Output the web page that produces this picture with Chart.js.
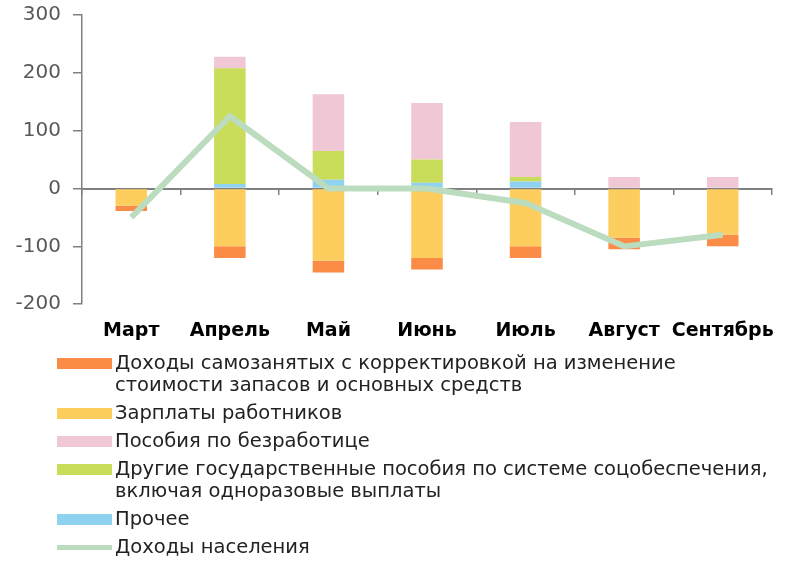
<!DOCTYPE html>
<html>
<head>
<meta charset="utf-8">
<script src="https://cdn.jsdelivr.net/npm/chart.js@4/dist/chart.umd.min.js"></script>
<style>
  html, body { margin: 0; padding: 0; background: #fff; }
  #wrap { position: relative; width: 799px; height: 562px; }
  #c { display: block; }
  #legend {
    position: absolute; left: 57px; top: 352px;
    font-family: 'DejaVu Sans', sans-serif; font-size: 19.5px; line-height: 22px; color: #222;
  }
  .item { display: flex; align-items: flex-start; margin-bottom: 6px; }
  .sw { width: 55px; height: 11px; margin-top: 5.5px; margin-right: 3px; flex: none; }
  .sw.line { height: 5px; margin-top: 8.5px; }
  .txt { white-space: pre-line; }
</style>
</head>
<body>
<div id="wrap">
  <canvas id="c" width="799" height="562"></canvas>
  <div id="legend"></div>
</div>
<script>
// Months of 2020
const months = ['Март', 'Апрель', 'Май', 'Июнь', 'Июль', 'Август', 'Сентябрь'];

// Contributions to personal income change, bn USD
const otherIncome   = [0, 8, 15, 10, 12, 0, 0];
const govBenefits   = [0, 200, 50, 40, 8, 0, 0];
const unemployment  = [0, 20, 98, 98, 95, 20, 20];
const wages         = [-30, -100, -125, -120, -100, -85, -80];
const selfEmployed  = [-9, -20, -20, -20, -20, -20, -20];
const personalIncome = [-50, 125, 0, 0, -25, -100, -80];

const yTicks = { min: -200, max: 300, step: 100 };

const COLORS = {
  self: '#fb8c47',
  wages: '#fdcd5d',
  unemp: '#efc7d5',
  gov: '#c9dd5b',
  other: '#8ed2f0',
  income: '#bcdcbf'
};

const axisGrey = '#808080';

// Keep axis label overhang from pushing the plot area inward
function noPadding(scale) {
  scale.paddingTop = 0;
  scale.paddingBottom = 0;
}

const chart = new Chart(document.getElementById('c'), {
  data: {
    labels: months,
    datasets: [
      { type: 'line', label: 'Доходы населения', data: personalIncome,
        borderColor: COLORS.income, backgroundColor: COLORS.income, borderWidth: 6,
        pointRadius: 0, tension: 0, borderJoinStyle: 'round', borderCapStyle: 'butt', order: 0 },
      { type: 'bar', label: 'Прочее', data: otherIncome, backgroundColor: COLORS.other, order: 1 },
      { type: 'bar', label: 'Другие государственные пособия по системе соцобеспечения,\nвключая одноразовые выплаты',
        data: govBenefits, backgroundColor: COLORS.gov, order: 1 },
      { type: 'bar', label: 'Пособия по безработице', data: unemployment, backgroundColor: COLORS.unemp, order: 1 },
      { type: 'bar', label: 'Зарплаты работников', data: wages, backgroundColor: COLORS.wages, order: 1 },
      { type: 'bar', label: 'Доходы самозанятых с корректировкой на изменение\nстоимости запасов и основных средств',
        data: selfEmployed, backgroundColor: COLORS.self, order: 1 }
    ]
  },
  options: {
    responsive: false,
    animation: false,
    layout: { padding: { top: 15, right: 27, bottom: 213, left: 0 } },
    datasets: { bar: { barPercentage: 0.32, categoryPercentage: 1.0 } },
    plugins: { legend: { display: false }, tooltip: { enabled: false } },
    scales: {
      x: {
        type: 'category',
        stacked: true,
        offset: true,
        position: { y: 0 },
        ticks: { display: false },
        grid: { drawOnChartArea: false, drawTicks: true, tickLength: 5, color: axisGrey, lineWidth: 1.5 },
        border: { display: true, color: axisGrey, width: 2 },
        afterFit: noPadding
      },
      x2: {
        type: 'category',
        labels: months,
        position: 'bottom',
        offset: true,
        grid: { display: false },
        border: { display: false },
        ticks: {
          autoSkip: false, maxRotation: 0, padding: 7, color: '#000',
          font: { family: 'DejaVu Sans', size: 19, weight: 'bold' }
        }
      },
      y: {
        stacked: true,
        min: yTicks.min,
        max: yTicks.max,
        ticks: {
          stepSize: yTicks.step, padding: 12, color: '#595959',
          font: { family: 'DejaVu Sans', size: 20 }
        },
        grid: { drawOnChartArea: false, drawTicks: true, tickLength: 9, color: axisGrey, lineWidth: 1.5 },
        border: { display: true, color: axisGrey, width: 1.5 },
        afterFit(scale) { scale.width = 82; noPadding(scale); }
      }
    }
  }
});

// Legend built from the chart's datasets
const legendOrder = [5, 4, 3, 2, 1, 0];
const legendEl = document.getElementById('legend');
legendOrder.forEach(i => {
  const ds = chart.data.datasets[i];
  const item = document.createElement('div');
  item.className = 'item';
  const sw = document.createElement('div');
  sw.className = 'sw' + (ds.type === 'line' ? ' line' : '');
  sw.style.background = ds.type === 'line' ? ds.borderColor : ds.backgroundColor;
  const txt = document.createElement('div');
  txt.className = 'txt';
  txt.textContent = ds.label;
  item.appendChild(sw);
  item.appendChild(txt);
  legendEl.appendChild(item);
});
</script>
</body>
</html>
